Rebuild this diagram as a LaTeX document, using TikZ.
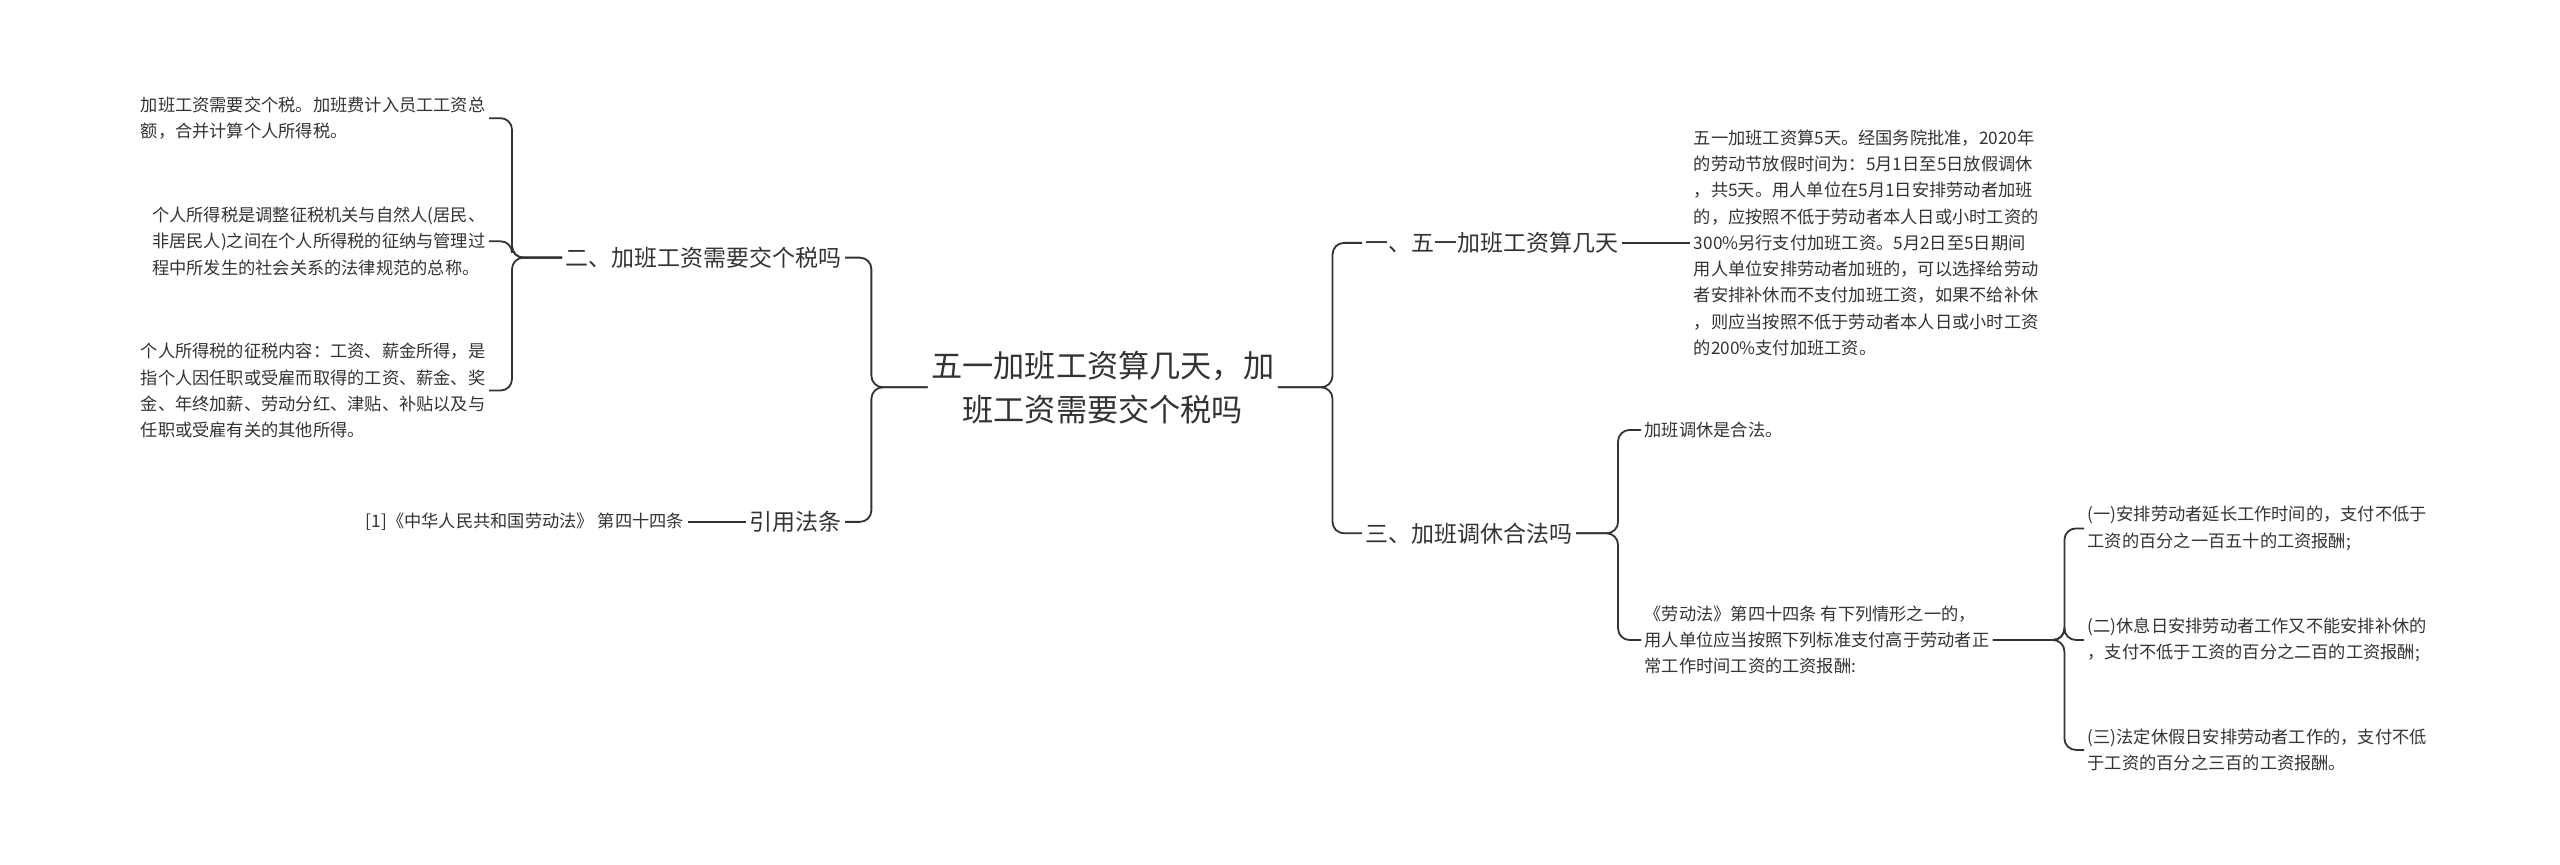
\documentclass[tikz,border=0pt]{standalone}
\usepackage{fontspec}
\setmainfont{Noto Sans CJK SC}
\begin{document}
\begin{tikzpicture}[x=1pt,y=-1pt,
  every node/.style={text=black!80,inner sep=2pt},
  leaf/.style={font=\fontsize{10.5}{16}\selectfont,align=left},
  branch/.style={font=\fontsize{14}{18}\selectfont},
  conn/.style={draw=black!80,line width=1.1pt,rounded corners=7pt}]
\useasboundingbox (0,0) rectangle (1560,527);
\node[font=\fontsize{19}{27}\selectfont,align=center] (c) at (672,236) {五一加班工资算几天，加\\班工资需要交个税吗};
\coordinate (jl) at (531,236);
\coordinate (jr) at (812,236);
\node[branch,anchor=east] (b2) at (515,157) {二、加班工资需要交个税吗};
\node[branch,anchor=east] (by) at (515,318) {引用法条};
\node[branch,anchor=west] (b1) at (830,148) {一、五一加班工资算几天};
\node[branch,anchor=west] (b3) at (830,325) {三、加班调休合法吗};
\draw[conn] (c.west) -- (jl) |- (b2.east);
\draw[conn] (c.west) -- (jl) |- (by.east);
\draw[conn] (c.east) -- (jr) |- (b1.west);
\draw[conn] (c.east) -- (jr) |- (b3.west);
% left leaves
\node[leaf,anchor=east] (l1) at (298,72) {加班工资需要交个税。加班费计入员工工资总\\额，合并计算个人所得税。};
\node[leaf,anchor=east] (l2) at (298,147) {个人所得税是调整征税机关与自然人(居民、\\非居民人)之间在个人所得税的征纳与管理过\\程中所发生的社会关系的法律规范的总称。};
\node[leaf,anchor=east] (l3) at (298,238) {个人所得税的征税内容：工资、薪金所得，是\\指个人因任职或受雇而取得的工资、薪金、奖\\金、年终加薪、劳动分红、津贴、补贴以及与\\任职或受雇有关的其他所得。};
\coordinate (j2) at (312,157);
\draw[conn] (b2.west) -- (j2) |- (l1.east);
\draw[conn] (b2.west) -- (j2) |- (l2.east);
\draw[conn] (b2.west) -- (j2) |- (l3.east);
\node[leaf,anchor=east] (ly) at (419,318) {[1]《中华人民共和国劳动法》 第四十四条};
\draw[conn] (by.west) -- (ly.east);
% right leaves
\node[leaf,anchor=west] (r1) at (1030,148) {五一加班工资算5天。经国务院批准，2020年\\的劳动节放假时间为：5月1日至5日放假调休\\，共5天。用人单位在5月1日安排劳动者加班\\的，应按照不低于劳动者本人日或小时工资的\\300\%另行支付加班工资。5月2日至5日期间\\用人单位安排劳动者加班的，可以选择给劳动\\者安排补休而不支付加班工资，如果不给补休\\，则应当按照不低于劳动者本人日或小时工资\\的200\%支付加班工资。};
\draw[conn] (b1.east) -- (r1.west);
\coordinate (j3) at (986,325);
\node[leaf,anchor=west] (r2) at (1000,262) {加班调休是合法。};
\node[leaf,anchor=west] (r3) at (1000,390) {《劳动法》第四十四条 有下列情形之一的，\\用人单位应当按照下列标准支付高于劳动者正\\常工作时间工资的工资报酬:};
\draw[conn] (b3.east) -- (j3) |- (r2.west);
\draw[conn] (b3.east) -- (j3) |- (r3.west);
\coordinate (j4) at (1258,390);
\node[leaf,anchor=west] (s1) at (1270,322) {(一)安排劳动者延长工作时间的，支付不低于\\工资的百分之一百五十的工资报酬;};
\node[leaf,anchor=west] (s2) at (1270,390) {(二)休息日安排劳动者工作又不能安排补休的\\，支付不低于工资的百分之二百的工资报酬;};
\node[leaf,anchor=west] (s3) at (1270,457) {(三)法定休假日安排劳动者工作的，支付不低\\于工资的百分之三百的工资报酬。};
\draw[conn] (r3.east) -- (j4) |- (s1.west);
\draw[conn] (r3.east) -- (j4) |- (s2.west);
\draw[conn] (r3.east) -- (j4) |- (s3.west);
\end{tikzpicture}
\end{document}
